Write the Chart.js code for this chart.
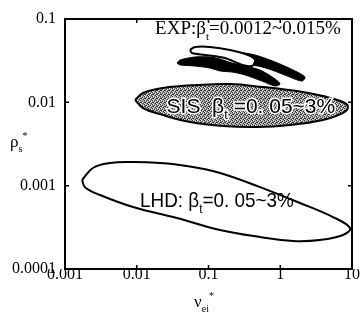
<!DOCTYPE html>
<html><head><meta charset="utf-8">
<script src="https://cdn.jsdelivr.net/npm/chart.js@4.4.0/dist/chart.umd.min.js"></script>
<style>html,body{margin:0;padding:0;background:#fff;}#wrap{width:361px;height:321px;position:relative;}</style>
</head><body><div id="wrap"><canvas id="c" width="361" height="321"></canvas></div>
<script>
// ---- axis ticks ----
const xTicks = [0.001, 0.01, 0.1, 1, 10];
const xTickLabels = ['0.001', '0.01', '0.1', '1', '10'];
const yTicks = [0.0001, 0.001, 0.01, 0.1];
const yTickLabels = ['0.0001', '0.001', '0.01', '0.1'];

// ---- LHD region outline (nu_ei*, rho_s*) ----
const lhdX = [0.00173,0.00245,0.00424,0.00887,0.0211,0.0501,0.1445,0.522,1.88,5.43,9.38,7.5,3.58,1.51,0.522,0.1445,0.0364,0.00887,0.00308,0.0019,0.00173];
const lhdY = [0.00117,0.00163,0.00187,0.00192,0.00187,0.00172,0.00142,0.00096,0.00062,0.00042,0.00031,0.000256,0.000223,0.000217,0.000242,0.000294,0.000409,0.000555,0.000773,0.00096,0.00117];

// ---- SIS region outline ----
const sisX = [0.00946,0.01222,0.0232,0.0692,0.1995,0.575,1.71,3.94,7.49,8.79,7.49,3.94,1.37,0.474,0.159,0.0552,0.0232,0.01222,0.00946];
const sisY = [0.01067,0.01294,0.01486,0.01614,0.0166,0.01528,0.01368,0.0119,0.0101,0.00879,0.00745,0.00614,0.00535,0.00506,0.0052,0.00581,0.00705,0.00855,0.01067];

// ---- EXP data bands ----
const expLowerX = [0.0364,0.0401,0.0649,0.105,0.1445,0.213,0.323,0.522,0.845,0.993,0.845,0.557,0.323,0.213,0.1445,0.105,0.0649,0.0401,0.0364];
const expLowerY = [0.0296,0.0322,0.035,0.035,0.0331,0.0296,0.0273,0.0244,0.0191,0.0166,0.0157,0.018,0.0213,0.0231,0.0238,0.0258,0.0273,0.0281,0.0296];
const expUpperX = [0.258,0.445,0.845,1.607,2.213,2.01,1.368,0.767,0.49,0.323,0.258];
const expUpperY = [0.0402,0.037,0.0305,0.0238,0.0201,0.018,0.0201,0.0244,0.0273,0.0288,0.0402];
const expWhiteX = [0.0552,0.0649,0.105,0.1995,0.356,0.445,0.404,0.275,0.170,0.0893,0.0589,0.0552];
const expWhiteY = [0.0425,0.0461,0.0461,0.0425,0.037,0.0322,0.0273,0.0288,0.034,0.037,0.0391,0.0425];

const toPts = (xs, ys) => xs.map((v, i) => ({x: v, y: ys[i]}));

function makePattern() {
  const c = document.createElement('canvas'); c.width = 4; c.height = 4;
  const g = c.getContext('2d');
  g.fillStyle = '#979797'; g.fillRect(0, 0, 4, 4);
  g.fillStyle = '#333';
  [[0,0],[2,1],[1,2],[3,3],[0,2]].forEach(p => g.fillRect(p[0], p[1], 1, 1));
  g.fillStyle = '#e6e6e6';
  [[1,0],[3,1],[0,3],[2,2]].forEach(p => g.fillRect(p[0], p[1], 1, 1));
  return g.createPattern(c, 'repeat');
}

const SERIF = '"Liberation Serif", "Times New Roman", serif';
const SANS = '"Liberation Sans", Arial, sans-serif';

function drawRich(ctx, parts, x, y, size, family, align, sx, stroke) {
  sx = sx || 1;
  ctx.save();
  ctx.translate(x, y);
  ctx.scale(sx, 1);
  let w = 0;
  const fonts = parts.map(p => (p[1] ? Math.round(size * 0.6) : size) + 'px ' + family);
  parts.forEach((p, i) => { ctx.font = fonts[i]; w += ctx.measureText(p[0]).width; });
  let cx = align === 'center' ? -w / 2 : 0;
  ctx.textBaseline = 'alphabetic';
  ctx.textAlign = 'left';
  parts.forEach((p, i) => {
    ctx.font = fonts[i];
    const dy = p[1] === 1 ? size * 0.3 : (p[1] === 2 ? -size * 0.45 : 0);
    if (stroke) { ctx.lineWidth = 3; ctx.strokeStyle = '#fff'; ctx.strokeText(p[0], cx, dy); }
    ctx.fillStyle = '#000';
    ctx.fillText(p[0], cx, dy);
    cx += ctx.measureText(p[0]).width;
  });
  ctx.restore();
}

const decor = {
  id: 'decor',
  afterDatasetsDraw(chart) {
    const {ctx, chartArea: a, scales: {x, y}} = chart;
    ctx.save();
    ctx.strokeStyle = '#000';
    ctx.lineWidth = 2;
    ctx.strokeRect(a.left, a.top, a.right - a.left, a.bottom - a.top);
    ctx.lineWidth = 1.5;
    xTicks.forEach(v => {
      const px = x.getPixelForValue(v);
      ctx.beginPath();
      ctx.moveTo(px, a.bottom); ctx.lineTo(px, a.bottom - 4);
      ctx.moveTo(px, a.top); ctx.lineTo(px, a.top + 4);
      ctx.stroke();
    });
    yTicks.forEach(v => {
      const py = y.getPixelForValue(v);
      ctx.beginPath();
      ctx.moveTo(a.left, py); ctx.lineTo(a.left + 4, py);
      ctx.moveTo(a.right, py); ctx.lineTo(a.right - 4, py);
      ctx.stroke();
    });
    // in-plot labels anchored in data coordinates
    drawRich(ctx, [['EXP:β',0],['t',1],['=0.0012~0.015%',0]],
      x.getPixelForValue(0.018), y.getPixelForValue(0.066), 19, SERIF, 'left');
    drawRich(ctx, [['SIS  β',0],['t',1],[' =0. 05~3%',0]],
      x.getPixelForValue(0.39), y.getPixelForValue(0.0075), 21, SANS, 'center', 1.0, true);
    drawRich(ctx, [['LHD: β',0],['t',1],['=0. 05~3%',0]],
      x.getPixelForValue(0.131), y.getPixelForValue(0.00056), 21, SANS, 'center', 0.9);
    // axis titles
    drawRich(ctx, [['ρ',0],['s',1],['*',2]], 10, 147, 17, SERIF, 'left');
    drawRich(ctx, [['ν',0],['ei',1],['*',2]], 194, 307, 17, SERIF, 'left');
    ctx.restore();
  }
};

const ds = (xs, ys, bg, border, bw, order, tension) => ({
  data: toPts(xs, ys), showLine: true, fill: 'shape', backgroundColor: bg,
  borderColor: border, borderWidth: bw, pointRadius: 0, tension: tension, order: order
});

new Chart(document.getElementById('c'), {
  type: 'scatter',
  data: {
    datasets: [
      ds(expWhiteX, expWhiteY, '#fff', '#000', 2, 0, 0.3),
      ds(expUpperX, expUpperY, '#000', '#000', 1, 1, 0.3),
      ds(expLowerX, expLowerY, '#000', '#000', 1, 1, 0.3),
      ds(sisX, sisY, makePattern(), '#000', 2, 2, 0.4),
      ds(lhdX, lhdY, '#fff', '#000', 2, 2, 0.4)
    ]
  },
  options: {
    responsive: false,
    animation: false,
    layout: {padding: {left: 0, right: 9, top: 19, bottom: 0}},
    plugins: {legend: {display: false}, tooltip: {enabled: false}},
    scales: {
      x: {
        type: 'logarithmic', min: 0.001, max: 10, position: 'bottom',
        afterBuildTicks: s => { s.ticks = xTicks.map(v => ({value: v})); },
        afterFit: s => { s.height = 52; },
        grid: {display: false, drawTicks: false},
        border: {display: false},
        ticks: {autoSkip: false, maxRotation: 0, padding: -4, color: '#000',
          font: {family: SERIF, size: 16},
          callback: v => xTickLabels[xTicks.indexOf(v)]}
      },
      y: {
        type: 'logarithmic', min: 0.0001, max: 0.1, position: 'left',
        afterBuildTicks: s => { s.ticks = yTicks.map(v => ({value: v})); },
        afterFit: s => { s.width = 65; },
        grid: {display: false, drawTicks: false},
        border: {display: false},
        ticks: {autoSkip: false, padding: 9, color: '#000',
          font: {family: SERIF, size: 16},
          callback: v => yTickLabels[yTicks.indexOf(v)]}
      }
    }
  },
  plugins: [decor]
});
</script>
</body></html>
